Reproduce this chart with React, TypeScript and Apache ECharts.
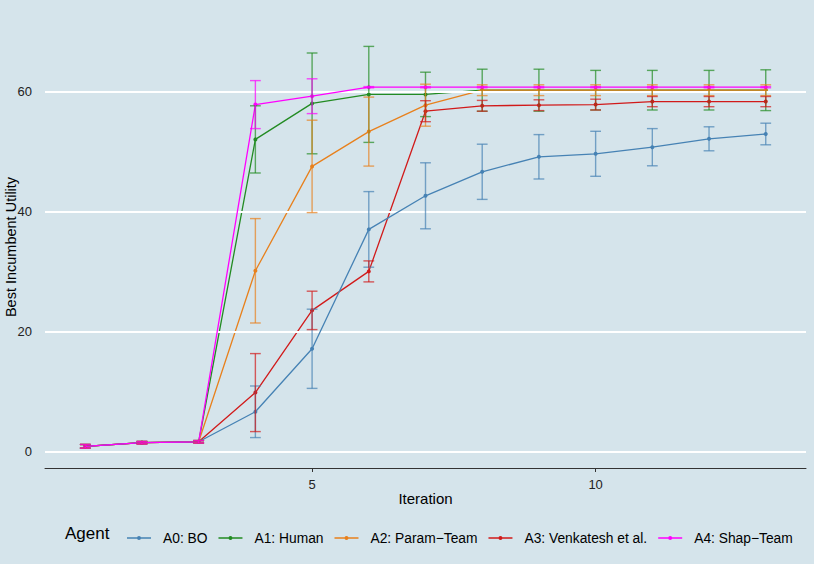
import React, { useEffect, useRef } from "react";
import * as echarts from "echarts";

const iterations = [1, 2, 3, 4, 5, 6, 7, 8, 9, 10, 11, 12, 13];

const agentNames = [
  "A0: BO",
  "A1: Human",
  "A2: Param\u2212Team",
  "A3: Venkatesh et al.",
  "A4: Shap\u2212Team",
];
const agentColors = ["#4682B4", "#228B22", "#E8801C", "#D11A1A", "#FF00FF"];
const lineZ = [5, 2, 3, 4, 6];

const a0Mean = [0.95, 1.55, 1.7, 6.7, 17.2, 37.1, 42.7, 46.7, 49.2, 49.7, 50.8, 52.2, 53.0];
const a0Sd = [0.3, 0.2, 0.2, 4.3, 6.6, 6.3, 5.5, 4.6, 3.7, 3.75, 3.1, 2.0, 1.8];

const a1Mean = [0.95, 1.55, 1.7, 52.1, 58.1, 59.6, 59.6, 60.3, 60.3, 60.3, 60.3, 60.3, 60.3];
const a1Sd = [0.3, 0.2, 0.2, 5.6, 8.4, 8.0, 3.7, 3.5, 3.5, 3.3, 3.3, 3.3, 3.4];

const a2Mean = [0.95, 1.55, 1.7, 30.2, 47.6, 53.4, 57.8, 60.3, 60.3, 60.3, 60.3, 60.3, 60.3];
const a2Sd = [0.3, 0.2, 0.2, 8.7, 7.7, 5.75, 3.5, 0.9, 0.9, 0.9, 0.9, 0.9, 0.9];

const a3Mean = [0.95, 1.55, 1.7, 9.9, 23.6, 30.1, 56.8, 57.7, 57.8, 57.9, 58.4, 58.4, 58.4];
const a3Sd = [0.3, 0.2, 0.2, 6.5, 3.2, 1.75, 1.75, 0.9, 0.9, 0.9, 0.85, 0.85, 0.85];

const a4Mean = [0.95, 1.55, 1.7, 57.9, 59.3, 60.8, 60.8, 60.8, 60.8, 60.8, 60.8, 60.8, 60.8];
const a4Sd = [0.3, 0.2, 0.2, 4.0, 2.9, 0.1, 0.1, 0.1, 0.1, 0.1, 0.1, 0.1, 0.1];

const means = [a0Mean, a1Mean, a2Mean, a3Mean, a4Mean];
const sds = [a0Sd, a1Sd, a2Sd, a3Sd, a4Sd];

const yTicks = [0, 20, 40, 60];
const xTicks = [5, 10];

const FONT = "'Liberation Sans', Arial, sans-serif";
const BG = "#D5E4EB";
const CAP_WIDTH = 0.19;
const LEGEND_ICON =
  "path://M0,1.2 L24,1.2 L24,2.8 L0,2.8 Z M12,0 A2,2 0 0 1 12,4 A2,2 0 0 1 12,0 Z";

export default function App() {
  const ref = useRef<HTMLDivElement>(null);

  useEffect(() => {
    document.body.style.margin = "0";
    const chart = echarts.init(ref.current!, null, { renderer: "svg" });

    const series: any[] = [];
    // horizontal gridlines
    series.push({
      type: "line",
      data: [],
      z: 0,
      silent: true,
      markLine: {
        silent: true,
        symbol: "none",
        label: { show: false },
        emphasis: { disabled: true },
        lineStyle: { color: "#FFFFFF", width: 2, type: "solid" },
        data: yTicks.map((v) => ({ yAxis: v })),
      },
    });

    agentNames.forEach((name, i) => {
      series.push({
        type: "line",
        name,
        z: lineZ[i],
        silent: true,
        clip: false,
        data: iterations.map((x, k) => [x, means[i][k]]),
        symbol: "circle",
        symbolSize: 4,
        showSymbol: true,
        lineStyle: { color: agentColors[i], width: 1.3 },
        itemStyle: { color: agentColors[i] },
        emphasis: { disabled: true },
      });
    });
    agentNames.forEach((name, i) => {
      series.push({
        type: "custom",
        name,
        z: 10 + i,
        silent: true,
        data: iterations.map((x, k) => [x, means[i][k] - sds[i][k], means[i][k] + sds[i][k]]),
        encode: { x: 0, y: [1, 2] },
        renderItem: (params: any, api: any) => {
          const x = api.value(0);
          const lo = api.value(1);
          const hi = api.value(2);
          const pLo = api.coord([x, lo]);
          const pHi = api.coord([x, hi]);
          const half = api.size([CAP_WIDTH, 0])[0] / 2;
          const style = { stroke: agentColors[i], lineWidth: 1.4, opacity: 0.7 };
          return {
            type: "group",
            children: [
              { type: "line", shape: { x1: pLo[0], y1: pLo[1], x2: pHi[0], y2: pHi[1] }, style },
              { type: "line", shape: { x1: pHi[0] - half, y1: pHi[1], x2: pHi[0] + half, y2: pHi[1] }, style },
              { type: "line", shape: { x1: pLo[0] - half, y1: pLo[1], x2: pLo[0] + half, y2: pLo[1] }, style },
            ],
          };
        },
      });
    });

    chart.setOption({
      animation: false,
      backgroundColor: BG,
      textStyle: { fontFamily: FONT },
      grid: { left: 45, right: 8, top: 26, bottom: 96, containLabel: false, outerBoundsMode: "none" },
      xAxis: {
        type: "value",
        min: 0.29,
        max: 13.71,
        name: "Iteration",
        nameLocation: "middle",
        nameGap: 23,
        nameMoveOverlap: false,
        nameTextStyle: { fontSize: 15, color: "#000000", fontFamily: FONT },
        axisLine: { show: true, onZero: false, lineStyle: { color: "#333333", width: 1 } },
        axisTick: { show: true, customValues: xTicks, length: 4, lineStyle: { color: "#333333" } },
        axisLabel: { customValues: xTicks, fontSize: 13, color: "#222222", margin: 10, fontFamily: FONT },
        splitLine: { show: false },
      },
      yAxis: {
        type: "value",
        min: -2.67,
        max: 71,
        name: "Best Incumbent Utility",
        nameLocation: "middle",
        nameGap: 27,
        nameMoveOverlap: false,
        nameTextStyle: { fontSize: 14.5, color: "#000000", fontFamily: FONT },
        axisLine: { show: false },
        axisTick: { show: false, customValues: yTicks },
        axisLabel: { customValues: yTicks, fontSize: 13, color: "#222222", margin: 13, fontFamily: FONT },
        splitLine: { show: false },
      },
      legend: {
        data: agentNames,
        icon: LEGEND_ICON,
        left: 122,
        top: 526,
        itemWidth: 24,
        itemHeight: 4,
        itemGap: 11,
        itemStyle: { borderWidth: 0 },
        textStyle: { fontSize: 13.8, color: "#000000", fontFamily: FONT, padding: [0, 0, 0, 7] },
      },
      graphic: [
        {
          type: "text",
          left: 65,
          top: 525,
          style: { text: "Agent", fontSize: 17, fill: "#000000", fontFamily: FONT },
        },
      ],
      series,
    });

    return () => chart.dispose();
  }, []);

  return <div ref={ref} style={{ position: "absolute", left: 0, top: 0, width: 814, height: 564 }} />;
}
